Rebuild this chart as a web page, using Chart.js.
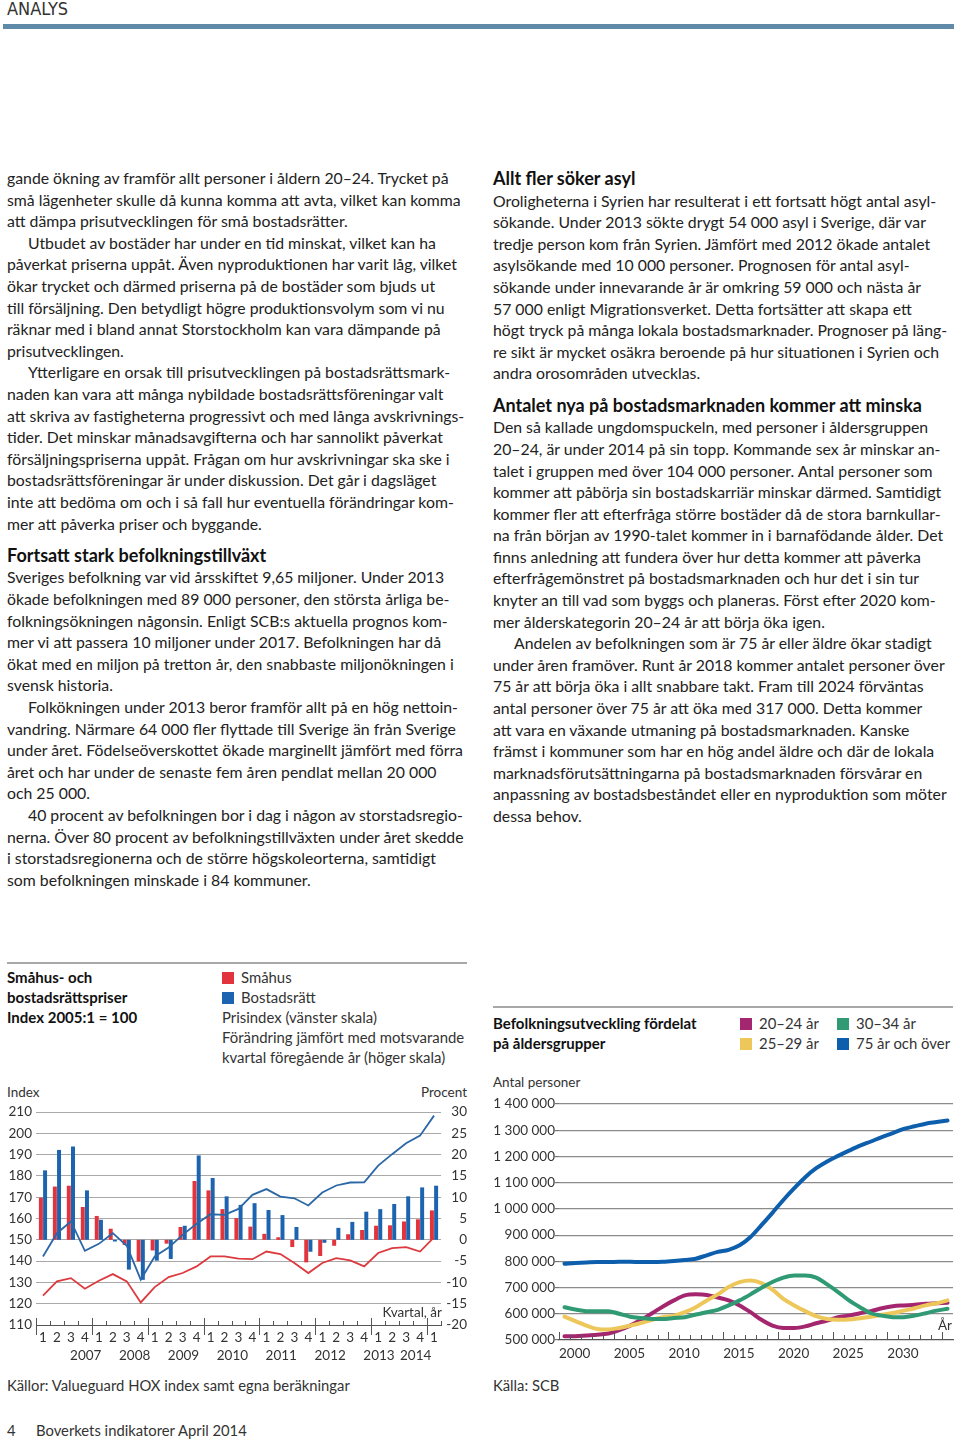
<!doctype html>
<html>
<head>
<meta charset="utf-8">
<title>Analys</title>
<script src="https://cdn.jsdelivr.net/npm/chart.js@4.4.1/dist/chart.umd.min.js"></script>
<style>
  body { margin:0; width:960px; height:1442px; position:relative; overflow:hidden; background:#fff;
         font-family: Lato, "Noto Sans", sans-serif; color:#222; }
  .abs { position:absolute; }
  .col div { white-space:nowrap; height:21.6px; line-height:21.6px; font-size:15.8px; }
  .col .h { font-weight:bold; font-size:18px; color:#111; margin-top:10.8px; }
  .col .h.first { margin-top:0; }
  .col .in { padding-left:21px; }
  .ttl div { white-space:nowrap; height:20px; line-height:20px; font-size:15px; font-weight:bold; color:#111; }
  .leg div { white-space:nowrap; height:20px; line-height:20px; font-size:14.9px; color:#333; }
  .sq { display:inline-block; width:12px; height:12px; margin-right:7px; vertical-align:-1px; }
  .small { font-size:13.5px; color:#333; white-space:nowrap; }
  .foot { font-size:14.8px; color:#333; white-space:nowrap; }
</style>
</head>
<body>

<div class="abs" style="left:7px;top:0px;line-height:18px;font-family:'Liberation Sans Narrow','DejaVu Sans Condensed',sans-serif;font-size:18px;color:#333;">ANALYS</div>
<div class="abs" style="left:3px;top:24px;width:951px;height:5px;background:#5f8aa8;"></div>

<div class="abs col" style="left:7px;top:167px;">
  <div>gande ökning av framför allt personer i åldern 20–24. Trycket på</div>
  <div>små lägenheter skulle då kunna komma att avta, vilket kan komma</div>
  <div>att dämpa prisutvecklingen för små bostadsrätter.</div>
  <div class="in">Utbudet av bostäder har under en tid minskat, vilket kan ha</div>
  <div>påverkat priserna uppåt. Även nyproduktionen har varit låg, vilket</div>
  <div>ökar trycket och därmed priserna på de bostäder som bjuds ut</div>
  <div>till försäljning. Den betydligt högre produktionsvolym som vi nu</div>
  <div>räknar med i bland annat Storstockholm kan vara dämpande på</div>
  <div>prisutvecklingen.</div>
  <div class="in">Ytterligare en orsak till prisutvecklingen på bostadsrättsmark-</div>
  <div>naden kan vara att många nybildade bostadsrättsföreningar valt</div>
  <div>att skriva av fastigheterna progressivt och med långa avskrivnings-</div>
  <div>tider. Det minskar månadsavgifterna och har sannolikt påverkat</div>
  <div>försäljningspriserna uppåt. Frågan om hur avskrivningar ska ske i</div>
  <div>bostadsrättsföreningar är under diskussion. Det går i dagsläget</div>
  <div>inte att bedöma om och i så fall hur eventuella förändringar kom-</div>
  <div>mer att påverka priser och byggande.</div>
  <div class="h">Fortsatt stark befolkningstillväxt</div>
  <div>Sveriges befolkning var vid årsskiftet 9,65 miljoner. Under 2013</div>
  <div>ökade befolkningen med 89 000 personer, den största årliga be-</div>
  <div>folkningsökningen någonsin. Enligt SCB:s aktuella prognos kom-</div>
  <div>mer vi att passera 10 miljoner under 2017. Befolkningen har då</div>
  <div>ökat med en miljon på tretton år, den snabbaste miljonökningen i</div>
  <div>svensk historia.</div>
  <div class="in">Folkökningen under 2013 beror framför allt på en hög nettoin-</div>
  <div>vandring. Närmare 64 000 fler flyttade till Sverige än från Sverige</div>
  <div>under året. Födelseöverskottet ökade marginellt jämfört med förra</div>
  <div>året och har under de senaste fem åren pendlat mellan 20 000</div>
  <div>och 25 000.</div>
  <div class="in">40 procent av befolkningen bor i dag i någon av storstadsregio-</div>
  <div>nerna. Över 80 procent av befolkningstillväxten under året skedde</div>
  <div>i storstadsregionerna och de större högskoleorterna, samtidigt</div>
  <div>som befolkningen minskade i 84 kommuner.</div>
</div>

<div class="abs col" style="left:493px;top:168px;">
  <div class="h first">Allt fler söker asyl</div>
  <div>Oroligheterna i Syrien har resulterat i ett fortsatt högt antal asyl-</div>
  <div>sökande. Under 2013 sökte drygt 54 000 asyl i Sverige, där var</div>
  <div>tredje person kom från Syrien. Jämfört med 2012 ökade antalet</div>
  <div>asylsökande med 10 000 personer. Prognosen för antal asyl-</div>
  <div>sökande under innevarande år är omkring 59 000 och nästa år</div>
  <div>57 000 enligt Migrationsverket. Detta fortsätter att skapa ett</div>
  <div>högt tryck på många lokala bostadsmarknader. Prognoser på läng-</div>
  <div>re sikt är mycket osäkra beroende på hur situationen i Syrien och</div>
  <div>andra orosområden utvecklas.</div>
  <div class="h">Antalet nya på bostadsmarknaden kommer att minska</div>
  <div>Den så kallade ungdomspuckeln, med personer i åldersgruppen</div>
  <div>20–24, är under 2014 på sin topp. Kommande sex år minskar an-</div>
  <div>talet i gruppen med över 104 000 personer. Antal personer som</div>
  <div>kommer att påbörja sin bostadskarriär minskar därmed. Samtidigt</div>
  <div>kommer fler att efterfråga större bostäder då de stora barnkullar-</div>
  <div>na från början av 1990-talet kommer in i barnafödande ålder. Det</div>
  <div>finns anledning att fundera över hur detta kommer att påverka</div>
  <div>efterfrågemönstret på bostadsmarknaden och hur det i sin tur</div>
  <div>knyter an till vad som byggs och planeras. Först efter 2020 kom-</div>
  <div>mer ålderskategorin 20–24 år att börja öka igen.</div>
  <div class="in">Andelen av befolkningen som är 75 år eller äldre ökar stadigt</div>
  <div>under åren framöver. Runt år 2018 kommer antalet personer över</div>
  <div>75 år att börja öka i allt snabbare takt. Fram till 2024 förväntas</div>
  <div>antal personer över 75 år att öka med 317 000. Detta kommer</div>
  <div>att vara en växande utmaning på bostadsmarknaden. Kanske</div>
  <div>främst i kommuner som har en hög andel äldre och där de lokala</div>
  <div>marknadsförutsättningarna på bostadsmarknaden försvårar en</div>
  <div>anpassning av bostadsbeståndet eller en nyproduktion som möter</div>
  <div>dessa behov.</div>
</div>

<!-- left chart frame -->
<div class="abs" style="left:7px;top:962px;width:460px;height:2px;background:#a8a8a8;"></div>
<div class="abs ttl" style="left:7px;top:967px;">
  <div>Småhus- och</div><div>bostadsrättspriser</div><div>Index 2005:1 = 100</div>
</div>
<div class="abs leg" style="left:222px;top:967px;">
  <div><span class="sq" style="background:#e1343c"></span>Småhus</div>
  <div><span class="sq" style="background:#1d64b0"></span>Bostadsrätt</div>
  <div>Prisindex (vänster skala)</div>
  <div>Förändring jämfört med motsvarande</div>
  <div>kvartal föregående år (höger skala)</div>
</div>
<div class="abs small" style="left:7px;top:1084px;">Index</div>
<div class="abs small" style="left:380px;top:1084px;width:87px;text-align:right;">Procent</div>
<div class="abs" style="left:0;top:1098px;"><canvas id="prices" width="467" height="268"></canvas></div>
<div class="abs small" style="left:340px;top:1304px;width:102px;text-align:right;">Kvartal, år</div>
<div class="abs foot" style="left:7px;top:1376px;">Källor: Valueguard HOX index samt egna beräkningar</div>

<!-- right chart frame -->
<div class="abs" style="left:493px;top:1006px;width:460px;height:2px;background:#a8a8a8;"></div>
<div class="abs ttl" style="left:493px;top:1013px;">
  <div>Befolkningsutveckling fördelat</div><div>på åldersgrupper</div>
</div>
<div class="abs leg" style="left:740px;top:1013px;">
  <div><span class="sq" style="background:#a3266f"></span>20–24 år</div>
  <div><span class="sq" style="background:#eec75a"></span>25–29 år</div>
</div>
<div class="abs leg" style="left:837px;top:1013px;">
  <div><span class="sq" style="background:#2f9a73"></span>30–34 år</div>
  <div><span class="sq" style="background:#0d5fad"></span>75 år och över</div>
</div>
<div class="abs small" style="left:493px;top:1074px;">Antal personer</div>
<div class="abs" style="left:490px;top:1090px;"><canvas id="population" width="465" height="276"></canvas></div>
<div class="abs small" style="left:938px;top:1317px;">År</div>
<div class="abs foot" style="left:493px;top:1376px;">Källa: SCB</div>

<div class="abs foot" style="left:7px;top:1421px;">4</div>
<div class="abs foot" style="left:36px;top:1421px;">Boverkets indikatorer April 2014</div>

<script>
// --- Småhus- och bostadsrättspriser, kvartal 2007:1–2014:1 ---
var quarterLabels = ['1','2','3','4', '1','2','3','4', '1','2','3','4', '1','2','3','4',
                     '1','2','3','4', '1','2','3','4', '1','2','3','4', '1'];
var yearLabels = ['2007','2008','2009','2010','2011','2012','2013','2014'];
var quartersPerYear = [4, 4, 4, 4, 4, 4, 4, 1];

// förändring mot motsvarande kvartal föregående år, procent (höger skala)
var smahusChange = [9.9, 12.5, 12.7, 7.7,  5.6, 2.6, -1.2, -5.1,  -2.5, -0.9, 3.0, 13.8,
                    11.6, 7.2, 5.1, 3.1,  1.4, 0.6, -1.7, -5.3,  -3.8, -1.4, 1.3, 2.3,
                    3.3, 3.4, 4.3, 4.8,  6.9];
var bostadsrattChange = [16.3, 21.1, 21.9, 11.6,  4.7, -0.4, -7.0, -9.4,  -4.9, -4.5, 3.3, 19.8,
                         14.5, 10.2, 8.2, 8.6,  7.0, 5.8, 3.0, -2.8,  -0.7, 2.8, 4.2, 6.6,
                         7.2, 8.4, 10.2, 12.3,  12.7];
// prisindex 2005:1 = 100 (vänster skala)
var smahusIndex = [123.8, 130.5, 132.0, 127.0,  130.8, 133.9, 130.5, 120.6,  127.8, 132.5, 134.4, 137.5,
                   142.2, 142.2, 141.2, 140.9,  144.5, 143.3, 139.1, 134.4,  139.1, 141.4, 140.3, 137.5,
                   143.8, 146.1, 146.6, 144.5,  151.1];
var bostadsrattIndex = [142.2, 153.1, 158.6, 144.8,  148.1, 153.1, 147.2, 131.3,  142.2, 146.4, 152.3, 157.5,
                        162.0, 161.7, 164.5, 171.1,  173.8, 170.3, 169.5, 166.1,  172.2, 175.5, 176.9, 177.0,
                        184.8, 190.2, 195.3, 198.9,  208.3];

// --- Befolkningsutveckling fördelat på åldersgrupper, 2000–2035 (tusental) ---
var years = [2000,2001,2002,2003,2004,2005,2006,2007,2008,2009,2010,2011,2012,2013,2014,2015,2016,2017,
             2018,2019,2020,2021,2022,2023,2024,2025,2026,2027,2028,2029,2030,2031,2032,2033,2034,2035];
var yearTickLabels = [2000, 2005, 2010, 2015, 2020, 2025, 2030];
var age20_24 = [514,514,517,520,525,538,555,577,602,628,651,670,674,672,662,651,632,606,
                577,555,546,546,552,564,574,587,593,602,610,621,629,632,634,638,640,642];
var age25_29 = [589,572,555,542,540,546,555,565,577,587,593,606,625,651,674,702,721,727,
                717,692,657,632,610,591,580,577,578,583,589,596,603,612,621,632,640,651];
var age30_34 = [625,616,610,610,610,600,589,584,580,580,584,587,597,606,615,632,651,674,
                699,721,738,746,746,738,712,683,651,625,602,593,587,587,593,602,612,619];
var age75plus = [791,794,796,797,797,798,798,797,797,798,801,805,810,823,836,844,861,893,
                 938,985,1034,1079,1121,1155,1181,1202,1222,1241,1257,1274,1289,1305,1315,1325,1331,1337];

Chart.defaults.font.family = 'Lato, "Noto Sans", sans-serif';
Chart.defaults.font.size = 13.5;
Chart.defaults.color = '#333';
Chart.defaults.animation = false;

// small tick marks standing on the x axis, drawn through the chart's own x scale
var axisTicks = {
  id: 'axisTicks',
  afterDraw: function(chart, args, opts) {
    var ctx = chart.ctx;
    var sx = chart.scales.x;
    var base = sx.top;
    ctx.save();
    ctx.strokeStyle = opts.color;
    ctx.lineWidth = 1;
    opts.marks.forEach(function(m) {
      var px = Math.round(sx.getPixelForValue(m.value)) + 0.5;
      ctx.beginPath();
      ctx.moveTo(px, base - m.up);
      ctx.lineTo(px, base + m.down);
      ctx.stroke();
    });
    ctx.restore();
  }
};

function spaced(v) {
  return String(v).replace(/\B(?=(\d{3})+(?!\d))/g, ' ');
}

// year centres on the quarter axis, and quarter boundaries for tick marks
var yearCentres = [];
var yearStarts = [];
(function() {
  var start = 0;
  quartersPerYear.forEach(function(n) {
    yearStarts.push(start);
    yearCentres.push(start - 0.5 + Math.max(n, 2) / 2);
    start += n;
  });
})();
var quarterMarks = [];
for (var i = 0; i <= quarterLabels.length; i++) {
  var major = yearStarts.indexOf(i) >= 0;
  quarterMarks.push({ value: i - 0.5, up: major ? 7 : 4, down: major ? 10 : 0 });
}

new Chart(document.getElementById('prices'), {
  type: 'bar',
  data: {
    labels: quarterLabels,
    datasets: [
      { type: 'line', data: bostadsrattIndex, yAxisID: 'y', borderColor: '#2b67a6', borderWidth: 1.8,
        pointRadius: 0, tension: 0, order: 0 },
      { type: 'line', data: smahusIndex, yAxisID: 'y', borderColor: '#dc3a3f', borderWidth: 1.8,
        pointRadius: 0, tension: 0, order: 0 },
      { data: smahusChange, yAxisID: 'y1', backgroundColor: '#e1343c', order: 1,
        categoryPercentage: 0.6, barPercentage: 0.95 },
      { data: bostadsrattChange, yAxisID: 'y1', backgroundColor: '#1d64b0', order: 1,
        categoryPercentage: 0.6, barPercentage: 0.95 }
    ]
  },
  options: {
    responsive: false,
    layout: { padding: { top: 14, left: 0, right: 0, bottom: 0 } },
    plugins: {
      legend: { display: false },
      tooltip: { enabled: false },
      axisTicks: { color: '#555', marks: quarterMarks }
    },
    scales: {
      x: {
        grid: { display: true, drawOnChartArea: false, drawTicks: false, offset: true },
        border: { display: true, color: '#555', width: 1 },
        ticks: { padding: 5, autoSkip: false, maxRotation: 0, color: '#333' },
        afterFit: function(s) { s.height = 22; }
      },
      x2: {
        type: 'linear', position: 'bottom', weight: 1,
        min: -0.5, max: quarterLabels.length - 0.5,
        grid: { display: false, drawTicks: false }, border: { display: false },
        afterBuildTicks: function(s) { s.ticks = yearCentres.map(function(v) { return { value: v }; }); },
        ticks: { padding: 1, autoSkip: false, maxRotation: 0, color: '#333',
                 callback: function(v, i) { return yearLabels[i]; } },
        afterFit: function(s) { s.height = 19; }
      },
      y: {
        position: 'left', min: 110, max: 210,
        ticks: { stepSize: 10, padding: 4, color: '#333' },
        grid: { drawTicks: false, lineWidth: 1,
                color: function(c) { return c.tick && c.tick.value === 110 ? 'rgba(0,0,0,0)' : '#a9a9a9'; } },
        border: { display: false },
        afterFit: function(s) { s.width = 36; }
      },
      y1: {
        position: 'right', min: -20, max: 30,
        ticks: { stepSize: 5, padding: 4, crossAlign: 'far', color: '#333' },
        grid: { display: false, drawTicks: false },
        border: { display: false },
        afterFit: function(s) { s.width = 26; }
      }
    }
  },
  plugins: [axisTicks]
});

var yearMarks = years.map(function(y) {
  return { value: y, up: y % 5 === 0 ? 8 : 5, down: 0 };
});

function series(values) {
  return years.map(function(y, i) { return { x: y + 0.5, y: values[i] * 1000 }; });
}

new Chart(document.getElementById('population'), {
  type: 'line',
  data: {
    datasets: [
      { label: '30–34 år', data: series(age30_34), borderColor: '#2f9a73' },
      { label: '25–29 år', data: series(age25_29), borderColor: '#eec75a' },
      { label: '20–24 år', data: series(age20_24), borderColor: '#a3266f' },
      { label: '75 år och över', data: series(age75plus), borderColor: '#0d5fad' }
    ]
  },
  options: {
    responsive: false,
    layout: { padding: { top: 14, left: 0, right: 2, bottom: 0 } },
    elements: {
      line: { borderWidth: 4, tension: 0.4, cubicInterpolationMode: 'monotone', borderCapStyle: 'round' },
      point: { radius: 0 }
    },
    plugins: {
      legend: { display: false },
      tooltip: { enabled: false },
      axisTicks: { color: '#555', marks: yearMarks }
    },
    scales: {
      x: {
        type: 'linear', min: 2000, max: 2036,
        grid: { display: true, drawOnChartArea: false, drawTicks: false },
        border: { display: true, color: '#555', width: 1.2 },
        afterBuildTicks: function(s) {
          s.ticks = yearTickLabels.map(function(y) { return { value: y }; });
        },
        ticks: { align: 'start', padding: 6, autoSkip: false, maxRotation: 0, color: '#333',
                 callback: function(v) { return String(v); } },
        afterFit: function(s) { s.height = 26; }
      },
      y: {
        min: 500000, max: 1400000,
        ticks: { stepSize: 100000, padding: 0, color: '#333', callback: function(v) { return spaced(v); } },
        grid: { tickLength: 4, lineWidth: 1.2, tickColor: '#777',
                color: function(c) { return c.tick && c.tick.value === 500000 ? 'rgba(0,0,0,0)' : '#8c8c8c'; } },
        border: { display: false },
        afterFit: function(s) { s.width = 69; }
      }
    }
  },
  plugins: [axisTicks]
});
</script>
</body>
</html>
